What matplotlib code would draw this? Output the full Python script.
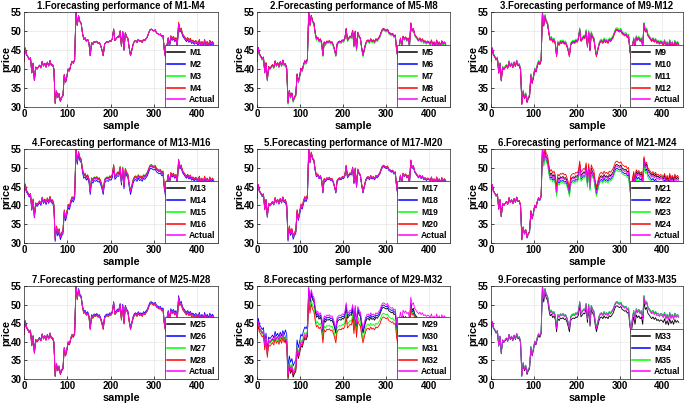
import numpy as np
import matplotlib
matplotlib.use("Agg")
import matplotlib.pyplot as plt

plt.rcParams['font.family'] = ['Liberation Sans', 'DejaVu Sans']

# ---------------- data ----------------
sample_step = 3
actual = [
    42.0, 45.5, 43.8, 43.2, 42.5, 43.0, 39.0, 41.5, 37.0, 40.5,
    40.0, 40.5, 41.0, 40.3, 42.0, 40.8, 41.5, 40.5, 41.8, 40.8,
    42.2, 41.0, 41.2, 40.0, 31.0, 34.2, 32.5, 33.5, 31.5, 32.5,
    33.0, 38.5, 36.5, 38.0, 40.0, 39.5, 41.0, 42.0, 41.5, 42.5,
    55.0, 51.5, 54.0, 52.5, 52.0, 49.5, 47.8, 48.2, 47.3, 47.8,
    46.8, 43.5, 47.0, 46.5, 47.2, 47.0, 47.3, 46.8, 47.0, 46.2,
    45.0, 43.5, 46.5, 47.0, 47.2, 47.0, 47.5, 47.3, 48.0, 50.5,
    47.5, 48.0, 48.5, 48.3, 50.0, 46.0, 49.8, 45.0, 49.5, 48.5,
    48.0, 45.5, 43.5, 45.0, 46.5, 47.3, 47.5, 47.0, 47.8, 47.2,
    47.5, 47.0, 47.8, 47.5, 48.0, 48.5, 49.5, 50.3, 50.5, 50.2,
    50.0, 50.3, 49.5, 49.3, 49.0, 49.2, 48.5, 48.8, 45.0, 43.0,
    46.0, 48.0, 46.0, 48.5, 47.8, 48.3, 47.5, 48.0, 46.0, 52.0,
    50.0, 50.5, 49.0, 48.5, 48.0, 47.5, 48.0, 47.3, 47.8, 47.0,
    47.3, 46.8, 47.2, 47.0, 46.5, 47.5, 46.0, 47.0, 45.8, 47.5,
    46.2, 47.0, 46.0, 47.3, 46.5, 47.0, 46.5,
]

# segment boundaries (sample index) for model deviations
segment_edges = [0, 66, 120, 330]

# per-model deviation from actual in each segment
model_offsets = {
    'M1': [0.0, 0.0, 0.0, 0.1],  'M2': [0.0, 0.0, 0.0, -0.3],
    'M3': [0.0, 0.0, 0.0, 0.2],  'M4': [0.0, 0.0, 0.0, 0.3],
    'M5': [0.1, 0.0, 0.0, 0.0],  'M6': [0.0, 0.2, 0.1, 0.0],
    'M7': [-0.2, -0.3, -0.3, -0.3], 'M8': [0.2, 0.2, 0.2, 0.2],
    'M9': [0.0, 0.0, 0.0, 0.0],  'M10': [0.0, -0.3, 0.0, 0.0],
    'M11': [0.2, 0.3, 0.4, 0.3], 'M12': [-0.2, -0.3, -0.3, -0.3],
    'M13': [0.0, 0.0, 0.0, 0.0], 'M14': [-0.3, -0.6, -0.6, -0.3],
    'M15': [0.2, 0.3, 0.4, 0.2], 'M16': [0.2, 0.3, 0.3, 0.3],
    'M17': [0.0, 0.0, 0.0, 0.0], 'M18': [-0.2, -0.5, -0.2, -0.2],
    'M19': [0.0, 0.1, 0.1, 0.0], 'M20': [0.1, 0.4, 0.2, 0.1],
    'M21': [0.0, 0.0, 0.4, 0.5], 'M22': [0.0, -0.2, -0.6, -0.8],
    'M23': [0.0, 0.0, -1.1, -1.5], 'M24': [0.0, 0.1, 1.3, 1.0],
    'M25': [0.0, 0.0, 0.0, 0.0], 'M26': [0.2, -0.3, 0.3, 0.4],
    'M27': [0.0, 0.0, -0.2, -0.2], 'M28': [-0.1, -0.3, -0.2, -0.3],
    'M29': [-0.3, -1.0, -1.2, -1.5], 'M30': [0.8, 2.0, -0.6, -2.0],
    'M31': [-0.5, 0.5, -2.8, -2.5], 'M32': [-1.2, -0.5, -3.8, -2.8],
    'M33': [-0.2, -0.3, -0.8, -1.3], 'M34': [0.0, 0.2, 0.3, 0.4],
    'M35': [0.0, 0.2, 0.3, 0.4],
}

panel_titles = [
    '1.Forecasting performance of M1-M4', '2.Forecasting performance of M5-M8',
    '3.Forecasting performance of M9-M12', '4.Forecasting performance of M13-M16',
    '5.Forecasting performance of M17-M20', '6.Forecasting performance of M21-M24',
    '7.Forecasting performance of M25-M28', '8.Forecasting performance of M29-M32',
    '9.Forecasting performance of M33-M35',
]
panel_models = [
    ['M1', 'M2', 'M3', 'M4'], ['M5', 'M6', 'M7', 'M8'], ['M9', 'M10', 'M11', 'M12'],
    ['M13', 'M14', 'M15', 'M16'], ['M17', 'M18', 'M19', 'M20'], ['M21', 'M22', 'M23', 'M24'],
    ['M25', 'M26', 'M27', 'M28'], ['M29', 'M30', 'M31', 'M32'], ['M33', 'M34', 'M35'],
]
x_ticks = [0, 100, 200, 300, 400]
y_ticks = [30, 35, 40, 45, 50, 55]

# ---------------- drawing ----------------
model_colors = ['#000000', '#0000ff', '#00ff00', '#ff0000']
actual_color = '#ff00ff'

actual_arr = np.array(actual)
x = np.arange(len(actual_arr)) * sample_step
seg_idx = np.searchsorted(segment_edges, x, side='right') - 1

fig = plt.figure(figsize=(6.85, 4.07), dpi=100)
lefts = [24 / 685, 257 / 685, 491 / 685]
widths = [194 / 685, 193 / 685, 192 / 685]
bottoms = [1 - 107 / 407, 1 - 243 / 407, 1 - 379 / 407]
heights = [95 / 407, 94 / 407, 93 / 407]

for p in range(9):
    r, c = divmod(p, 3)
    ax = fig.add_axes([lefts[c], bottoms[r], widths[c], heights[r]])
    for k, name in enumerate(panel_models[p]):
        off = np.array(model_offsets[name])[seg_idx]
        ax.plot(x, actual_arr + off, color=model_colors[k], lw=0.6, label=name)
    ax.plot(x, actual_arr, color=actual_color, lw=0.6, label='Actual')
    ax.set_xlim(0, 448)
    ax.set_ylim(30, 55)
    ax.set_xticks(x_ticks)
    ax.set_yticks(y_ticks)
    ax.tick_params(direction='in', length=2, width=0.5, labelsize=7, pad=1.5)
    for lab in ax.get_xticklabels() + ax.get_yticklabels():
        lab.set_fontweight('bold')
    ax.grid(True, color='#e6e6e6', lw=0.5)
    ax.set_axisbelow(True)
    for s in ax.spines.values():
        s.set_linewidth(0.5)
        s.set_color('#262626')
    ax.set_title(panel_titles[p], fontsize=6.9, fontweight='bold', pad=2)
    ax.set_xlabel('sample', fontsize=7.8, fontweight='bold', labelpad=1.5)
    ax.set_ylabel('price', fontsize=7.8, fontweight='bold', labelpad=0)
    leg = ax.legend(loc='lower right', borderaxespad=0,
                    prop={'weight': 'bold', 'size': 6.2}, fancybox=False,
                    framealpha=1, edgecolor='#262626', handlelength=2.0,
                    labelspacing=0.33, borderpad=0.3, handletextpad=0.5)
    leg.get_frame().set_linewidth(0.5)
    for ln in leg.get_lines():
        ln.set_linewidth(1.1)

fig.savefig('out.png', dpi=100)
